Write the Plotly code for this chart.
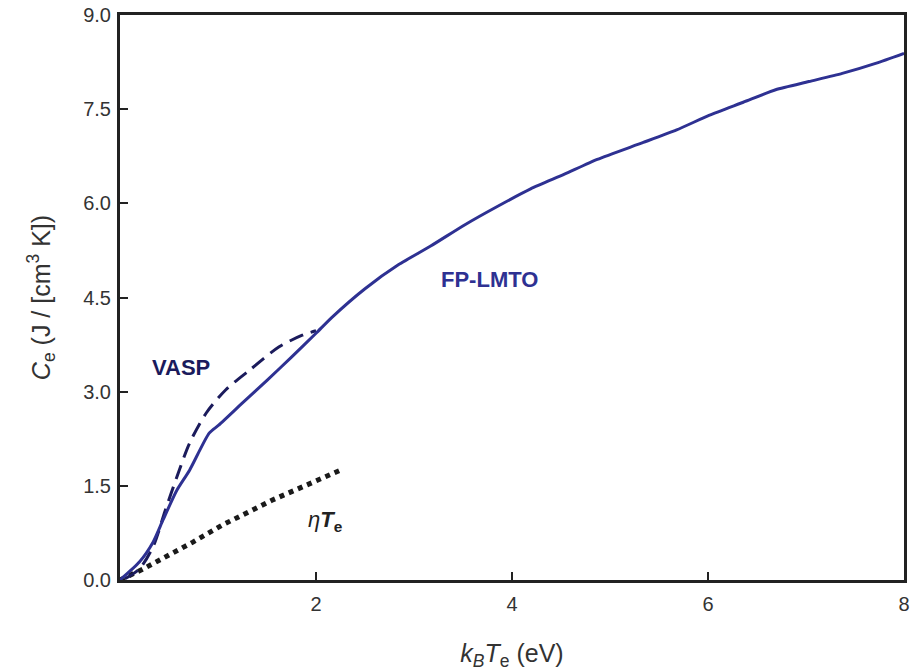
import plotly.graph_objects as go

# FP-LMTO (solid)
fp_x = [0, 0.2, 0.34, 0.44, 0.58, 0.71, 0.91, 1.01, 1.25, 1.5, 1.75, 2.0, 2.16, 2.5, 2.84, 3.17,
        3.52, 3.85, 4.19, 4.53, 4.87, 5.34, 5.68, 6.01, 6.36, 6.69, 7.03, 7.37, 7.71, 8.0]
fp_y = [0, 0.29, 0.61, 0.96, 1.43, 1.75, 2.34, 2.47, 2.82, 3.18, 3.55, 3.93, 4.18, 4.64, 5.02, 5.32,
        5.66, 5.95, 6.23, 6.46, 6.70, 6.97, 7.17, 7.40, 7.61, 7.81, 7.94, 8.07, 8.23, 8.39]

# VASP (dashed)
vasp_x = [0.05, 0.2, 0.34, 0.46, 0.58, 0.71, 0.88, 1.08, 1.32, 1.62, 1.86, 2.0]
vasp_y = [0.02, 0.18, 0.54, 1.1, 1.64, 2.18, 2.66, 3.03, 3.34, 3.71, 3.90, 3.97]

# eta*Te (dotted)
eta_x = [0, 0.23, 0.74, 1.05, 1.55, 2.28]
eta_y = [0, 0.17, 0.6, 0.88, 1.27, 1.77]

y_ticks = [0, 1.5, 3.0, 4.5, 6.0, 7.5, 9.0]
y_ticklabels = ["0.0", "1.5", "3.0", "4.5", "6.0", "7.5", "9.0"]
x_ticks = [2, 4, 6, 8]
x_ticklabels = ["2", "4", "6", "8"]

fp_color = "#2e3192"
vasp_color = "#1b1b5c"
FONT = "Liberation Sans, Arial"

fig = go.Figure()
fig.add_trace(go.Scatter(x=eta_x, y=eta_y, mode="lines",
                         line=dict(color="#1a1a1a", width=5, dash="5px,5px")))
fig.add_trace(go.Scatter(x=vasp_x, y=vasp_y, mode="lines", line_shape="spline",
                         line=dict(color=vasp_color, width=3, dash="15px,8px", smoothing=0.8)))
fig.add_trace(go.Scatter(x=fp_x, y=fp_y, mode="lines", line_shape="spline",
                         line=dict(color=fp_color, width=3, smoothing=0.6)))

fig.add_annotation(x=0.62, y=3.38, text="<b>VASP</b>", showarrow=False,
                   font=dict(family=FONT, size=22, color=vasp_color))
fig.add_annotation(x=3.77, y=4.78, text="<b>FP-LMTO</b>", showarrow=False,
                   font=dict(family=FONT, size=22, color=fp_color))
fig.add_annotation(x=2.1, y=0.94, text="<i>η</i><b><i>T</i><sub>e</sub></b>", showarrow=False,
                   font=dict(family=FONT, size=22, color="#222222"))

fig.update_layout(
    width=912, height=671,
    margin=dict(l=120, r=2, t=15, b=91),
    paper_bgcolor="white", plot_bgcolor="white",
    showlegend=False,
    font=dict(family=FONT, color="#333333"),
)
fig.update_xaxes(
    range=[0, 8], tickvals=x_ticks, ticktext=x_ticklabels,
    showgrid=False, zeroline=False,
    showline=True, linecolor="#222222", linewidth=3, mirror=True,
    ticks="inside", ticklen=8, tickwidth=2, tickcolor="#222222",
    tickfont=dict(size=20, color="#333333"), ticklabelstandoff=4,
    ticklabeloverflow="allow",
    title=dict(text="<i>k<sub>B</sub></i><i>T</i><sub>e</sub> (eV)",
               font=dict(size=25, color="#333333"), standoff=33),
)
fig.update_yaxes(
    range=[0, 9], tickvals=y_ticks, ticktext=y_ticklabels,
    showgrid=False, zeroline=False,
    showline=True, linecolor="#222222", linewidth=3, mirror=True,
    ticks="inside", ticklen=8, tickwidth=2, tickcolor="#222222",
    tickfont=dict(size=20, color="#333333"), ticklabelstandoff=2,
    title=dict(text="<i>C</i><sub>e</sub> (J / [cm<sup>3</sup> K])",
               font=dict(size=25, color="#333333"), standoff=26),
)

fig.write_html("out.html")
